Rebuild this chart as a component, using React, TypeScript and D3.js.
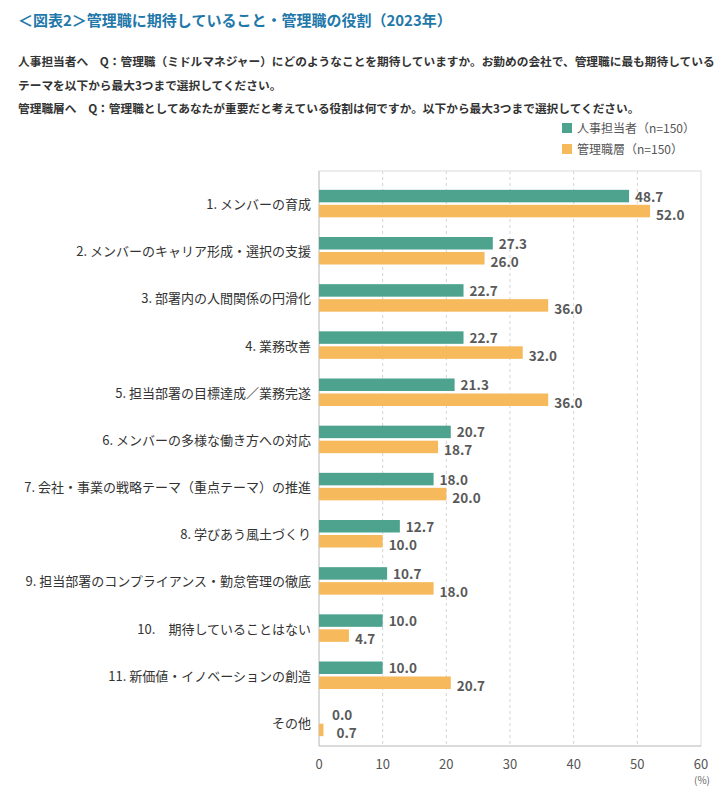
import React from "react";
import * as d3 from "d3";

const categories = [
  "1. メンバーの育成",
  "2. メンバーのキャリア形成・選択の支援",
  "3. 部署内の人間関係の円滑化",
  "4. 業務改善",
  "5. 担当部署の目標達成／業務完遂",
  "6. メンバーの多様な働き方への対応",
  "7. 会社・事業の戦略テーマ（重点テーマ）の推進",
  "8. 学びあう風土づくり",
  "9. 担当部署のコンプライアンス・勤怠管理の徹底",
  "10.　期待していることはない",
  "11. 新価値・イノベーションの創造",
  "その他",
];
const hrValues = [48.7, 27.3, 22.7, 22.7, 21.3, 20.7, 18.0, 12.7, 10.7, 10.0, 10.0, 0.0];
const mgrValues = [52.0, 26.0, 36.0, 32.0, 36.0, 18.7, 20.0, 10.0, 18.0, 4.7, 20.7, 0.7];
const seriesNames = ["人事担当者（n=150）", "管理職層（n=150）"];
const xTicks = [0, 10, 20, 30, 40, 50, 60];

const COLORS = ["#4ea38f", "#f6b95b"];
const FONT = "'Noto Sans CJK JP', 'Noto Sans', sans-serif";

export default function App() {
  const W = 726, H = 795;
  const left = 319, right = 701, top = 171, bottom = 746;
  const x = d3.scaleLinear().domain([0, 60]).range([left, right]);
  const y = d3.scaleBand<string>().domain(categories).range([180, 746]);
  const barH = 12.5, gap = 2.5;

  return (
    <svg width={W} height={H} style={{ position: "absolute", left: 0, top: 0, fontFamily: FONT }}>
      <rect width={W} height={H} fill="#fff" />
      <text x={18} y={26} fontSize={15} fontWeight={700} fill="#1f78aa">
        ＜図表2＞管理職に期待していること・管理職の役割（2023年）
      </text>
      <text x={18} y={66} fontSize={11.7} fontWeight={700} fill="#333">
        人事担当者へ　Q：管理職（ミドルマネジャー）にどのようなことを期待していますか。お勤めの会社で、管理職に最も期待している
      </text>
      <text x={18} y={90} fontSize={11.7} fontWeight={700} fill="#333">
        テーマを以下から最大3つまで選択してください。
      </text>
      <text x={18} y={113} fontSize={11.7} fontWeight={700} fill="#333">
        管理職層へ　Q：管理職としてあなたが重要だと考えている役割は何ですか。以下から最大3つまで選択してください。
      </text>

      {seriesNames.map((s, i) => (
        <g key={s}>
          <rect x={562} y={123 + i * 21} width={10} height={10} fill={COLORS[i]} />
          <text x={577} y={132.5 + i * 21} fontSize={12} fill="#555">{s}</text>
        </g>
      ))}

      {/* grid */}
      {xTicks.slice(1, -1).map((t) => (
        <line key={t} x1={x(t)} x2={x(t)} y1={top} y2={bottom} stroke="#d4d4d4" strokeDasharray="3,3" />
      ))}
      <rect x={left} y={top} width={right - left} height={bottom - top} fill="none" stroke="#dcdcdc" />
      <line x1={left} x2={left} y1={top} y2={bottom} stroke="#c8c8c8" />
      <line x1={left} x2={right} y1={bottom} y2={bottom} stroke="#c8c8c8" />

      {categories.map((c, i) => {
        const cy = (y(c) as number) + y.bandwidth() / 2;
        const vals = [hrValues[i], mgrValues[i]];
        return (
          <g key={c}>
            <text x={311} y={cy} fontSize={13} fill="#333" textAnchor="end" dominantBaseline="central">
              {c}
            </text>
            {vals.map((v, j) => {
              const by = j === 0 ? cy - gap / 2 - barH : cy + gap / 2;
              return (
                <g key={j}>
                  <rect x={x(0)} y={by} width={x(v) - x(0)} height={barH} fill={COLORS[j]} />
                  <text
                    x={x(v) + 6 + (v < 1 ? 7 : 0)}
                    y={by + barH / 2 + (j === 0 ? -0.5 : 2.5)}
                    fontSize={13.5}
                    fontWeight={700}
                    fill="#595959"
                    dominantBaseline="central"
                  >
                    {v.toFixed(1)}
                  </text>
                </g>
              );
            })}
          </g>
        );
      })}

      {xTicks.map((t) => (
        <text key={t} x={x(t)} y={763} fontSize={13} fill="#555" textAnchor="middle" dominantBaseline="central">
          {t}
        </text>
      ))}
      <text x={x(60) + 1} y={779} fontSize={10} fill="#666" textAnchor="middle" dominantBaseline="central">
        (%)
      </text>
    </svg>
  );
}
